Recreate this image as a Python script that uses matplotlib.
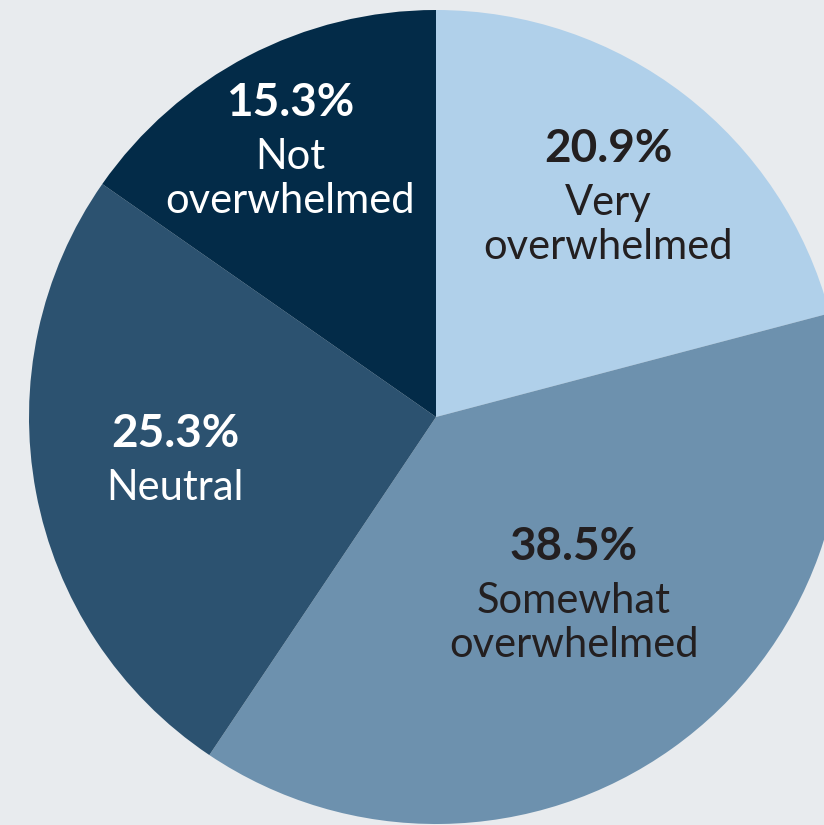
import matplotlib
matplotlib.use("Agg")
import matplotlib.pyplot as plt

plt.rcParams['font.family'] = ['Lato', 'DejaVu Sans']

labels = ['Very\noverwhelmed', 'Somewhat\noverwhelmed', 'Neutral', 'Not\noverwhelmed']
shares = [20.9, 38.5, 25.3, 15.3]
colors = ['#b0d0ea', '#6d91ae', '#2c5270', '#032b48']
text_colors = ['#231f20', '#231f20', 'white', 'white']

# baseline of the percentage line (x centre, y from top) in figure pixels
label_pos = [(608, 162), (574, 560), (175, 447), (290, 116)]

W, H = 824, 825
fig = plt.figure(figsize=(W / 100, H / 100), dpi=100)
fig.patch.set_facecolor('#e8ebee')
ax = fig.add_axes([0, 0, 1, 1])

cx, cy, r = 436, H - 417, 407
ax.pie(shares, colors=colors, startangle=90, counterclock=False,
       center=(cx, cy), radius=r,
       wedgeprops=dict(linewidth=0))
ax.set_xlim(0, W)
ax.set_ylim(0, H)
ax.set_aspect('auto')
ax.axis('off')

for lab, val, col, (x, y) in zip(labels, shares, text_colors, label_pos):
    ax.text(x, H - y, f'{val}%', ha='center', va='baseline', color=col,
            fontsize=33, fontweight='bold')
    # each label line on its own baseline
    for i, line in enumerate(lab.split('\n')):
        ax.text(x, H - y - 53 - 44 * i, line, ha='center', va='baseline',
                color=col, fontsize=30)

fig.savefig('out.png', dpi=100, facecolor=fig.get_facecolor())
